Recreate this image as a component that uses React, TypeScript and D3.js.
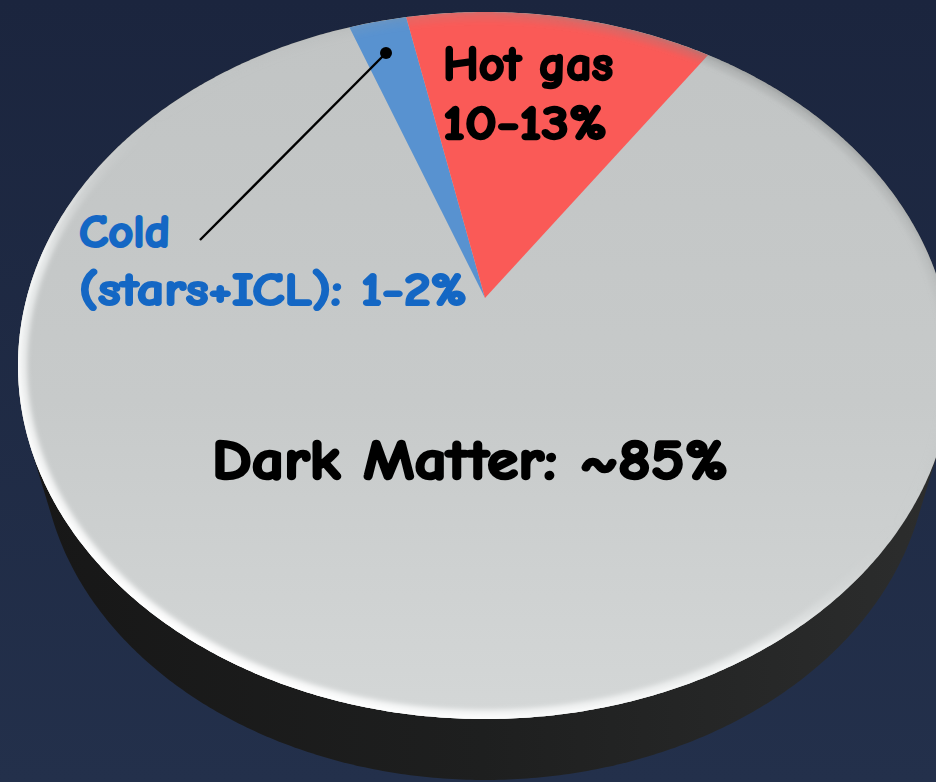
import React from "react";
import * as d3 from "d3";

// Composition of a galaxy cluster's mass budget (percent of total)
const categories = ["Dark Matter", "Cold", "Hot gas"];
const shares = [84.8, 2.4, 12.8];
const startDegrees = 34.3;

const darkLabel = ["Dark Matter: ~85%"];
const hotLabel = ["Hot gas", "10-13%"];
const coldLabel = ["Cold", "(stars+ICL): 1-2%"];

const W = 936;
const H = 782;

// perspective view of a flat disc: apex (disc centre) on screen, tilt factor p
const view = { x0: 485, y0: 298, k: 458.4, m: 340.6, p: -0.191 };
const base = { y0: 380, scale: 0.95 };

function project(theta: number, scale = 1, y0 = view.y0): [number, number] {
  const u = Math.sin(theta);
  const v = -Math.cos(theta);
  const w = 1 + view.p * v;
  return [view.x0 + (scale * view.k * u) / w, y0 + (scale * view.m * v) / w];
}

function ring(scale = 1, y0 = view.y0, steps = 720): [number, number][] {
  return d3.range(steps).map((i) => project((i / steps) * 2 * Math.PI, scale, y0));
}

const fillOf: Record<string, string> = {
  "Dark Matter": "none",
  Cold: "#5892d0",
  "Hot gas": "#fa5a57",
};

export default function App() {
  const pie = d3
    .pie<number>()
    .sort(null)
    .startAngle((startDegrees * Math.PI) / 180)
    .endAngle((startDegrees * Math.PI) / 180 + 2 * Math.PI);
  const arcs = pie(shares);

  const line = d3.line();
  const closed = d3.line().curve(d3.curveLinearClosed);

  const topRing = ring();
  const bottomRing = ring(base.scale, base.y0);
  const hull = d3.polygonHull([...topRing, ...bottomRing]) as [number, number][];

  const facePath = closed(topRing) as string;

  const slicePaths = arcs.map((a, i) => {
    const n = Math.max(4, Math.ceil(((a.endAngle - a.startAngle) * 180) / Math.PI));
    const pts: [number, number][] = [[view.x0, view.y0]];
    for (let j = 0; j <= n; j++) {
      const t = a.startAngle + ((a.endAngle - a.startAngle) * j) / n;
      pts.push(project(t));
    }
    pts.push([view.x0, view.y0]);
    return { name: categories[i], d: line(pts) as string };
  });

  const font = "'Comic Sans MS', 'Comic Neue', 'DejaVu Sans', sans-serif";

  return (
    <svg
      width={W}
      height={H}
      viewBox={`0 0 ${W} ${H}`}
      style={{ position: "absolute", left: 0, top: 0, display: "block" }}
    >
      <defs>
        <linearGradient id="bg" x1="0" y1="0" x2="0" y2="1">
          <stop offset="0" stopColor="#1b253e" />
          <stop offset="1" stopColor="#23304b" />
        </linearGradient>
        <linearGradient id="side" gradientUnits="userSpaceOnUse" x1="30" y1="0" x2="935" y2="0">
          <stop offset="0" stopColor="#171717" />
          <stop offset="0.5" stopColor="#1e1f1f" />
          <stop offset="1" stopColor="#2c2d2d" />
        </linearGradient>
        <linearGradient id="face" x1="0" y1="0" x2="0" y2="1">
          <stop offset="0" stopColor="#c1c4c4" />
          <stop offset="0.55" stopColor="#c7caca" />
          <stop offset="1" stopColor="#d4d7d7" />
        </linearGradient>
        <linearGradient id="rim" x1="0.2" y1="0.95" x2="0.85" y2="0.05">
          <stop offset="0" stopColor="#ffffff" stopOpacity="0.95" />
          <stop offset="0.35" stopColor="#f4f6f6" stopOpacity="0.7" />
          <stop offset="0.55" stopColor="#c8cbcb" stopOpacity="0" />
          <stop offset="0.85" stopColor="#8e9191" stopOpacity="0.15" />
          <stop offset="1" stopColor="#7a7d7d" stopOpacity="0.35" />
        </linearGradient>
        <clipPath id="faceClip">
          <path d={facePath} />
        </clipPath>
        <filter id="soft" x="-10%" y="-10%" width="120%" height="120%">
          <feGaussianBlur stdDeviation="2.5" />
        </filter>
        <filter id="softer" x="-10%" y="-10%" width="120%" height="120%">
          <feGaussianBlur stdDeviation="1" />
        </filter>
      </defs>

      <rect x={0} y={0} width={W} height={H} fill="url(#bg)" />

      {/* side wall of the disc */}
      <path d={closed(hull) as string} fill="url(#side)" />

      {/* top face */}
      <path d={facePath} fill="url(#face)" />
      <g clipPath="url(#faceClip)">
        {slicePaths
          .filter((s) => fillOf[s.name] !== "none")
          .map((s) => (
            <path key={s.name} d={s.d} fill={fillOf[s.name]} />
          ))}
        {/* bevelled rim */}
        <path d={facePath} fill="none" stroke="url(#rim)" strokeWidth={18} filter="url(#soft)" />
        <path d={facePath} fill="none" stroke="url(#rim)" strokeWidth={6} filter="url(#softer)" />
      </g>

      {/* leader for the cold component */}
      <line x1={200} y1={240} x2={386} y2={53} stroke="#000" strokeWidth={2.4} />
      <circle cx={386} cy={53} r={6} fill="#000" />

      <g fontFamily={font} fontWeight="bold" strokeLinejoin="round">
        {hotLabel.map((t, i) => (
          <text
            key={t}
            x={443}
            y={80 + i * 59}
            fontSize={49}
            fill="#000"
            stroke="#000"
            strokeWidth={2.4}
            textLength={i === 0 ? 170 : 164}
            lengthAdjust="spacingAndGlyphs"
          >
            {t}
          </text>
        ))}
        {coldLabel.map((t, i) => (
          <text
            key={t}
            x={79}
            y={247 + i * 58}
            fontSize={46}
            fill="#1467c4"
            stroke="#1467c4"
            strokeWidth={2.2}
            textLength={i === 0 ? 91 : 388}
            lengthAdjust="spacingAndGlyphs"
          >
            {t}
          </text>
        ))}
        {darkLabel.map((t) => (
          <text
            key={t}
            x={212}
            y={479}
            fontSize={56}
            fill="#000"
            stroke="#000"
            strokeWidth={2.6}
            textLength={516}
            lengthAdjust="spacingAndGlyphs"
          >
            {t}
          </text>
        ))}
      </g>
    </svg>
  );
}
